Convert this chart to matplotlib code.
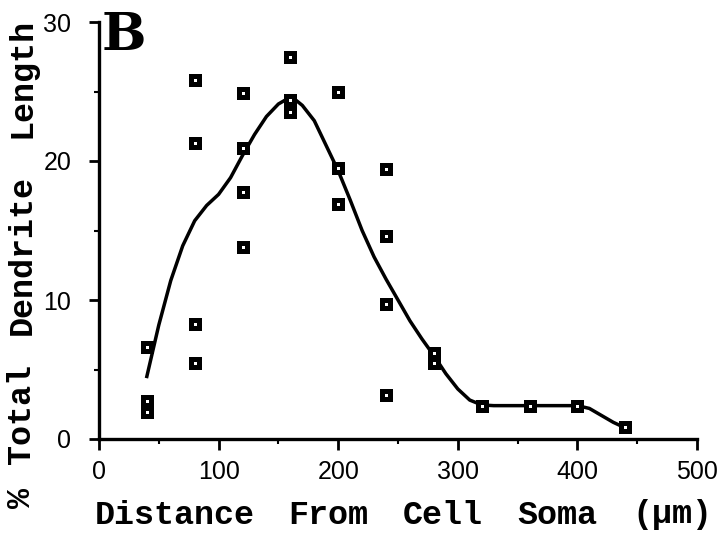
import numpy as np
import matplotlib
matplotlib.use("Agg")
from matplotlib import pyplot as plt
from matplotlib.ticker import MultipleLocator

# measured points: distance from soma (um) -> % of total dendrite length
dist = [40, 40, 40,
        80, 80, 80, 80,
        120, 120, 120, 120,
        160, 160, 160,
        200, 200, 200,
        240, 240, 240, 240,
        280, 280,
        320, 360, 400, 440]
pct = [6.6, 2.7, 1.95,
       25.8, 21.3, 8.3, 5.5,
       24.9, 20.9, 17.8, 13.8,
       27.5, 24.4, 23.5,
       25.0, 19.5, 16.9,
       19.4, 14.6, 9.7, 3.15,
       6.2, 5.5,
       2.35, 2.4, 2.4, 0.85]

# smoothed fit, read every 10 um (5 um round the peak)
fit_x = [40, 50, 60, 70, 80, 90, 100, 110, 120, 130, 140, 150, 155, 160,
         165, 170, 180, 190, 200, 210, 220, 230, 240, 250, 260, 270, 280,
         290, 300, 310, 320, 330, 340, 350, 360, 370, 380, 390, 400, 410,
         420, 430, 440]
fit_y = [4.5, 8.2, 11.4, 13.9, 15.7, 16.8, 17.6, 18.8, 20.4, 21.9, 23.2,
         24.1, 24.35, 24.45, 24.35, 24.0, 22.9, 21.1, 19.3, 17.2, 15.0,
         13.1, 11.5, 10.0, 8.5, 7.2, 6.0, 4.7, 3.6, 2.8, 2.45, 2.4, 2.4,
         2.4, 2.4, 2.4, 2.4, 2.4, 2.4, 2.2, 1.7, 1.2, 0.8]

xticks = [0, 100, 200, 300, 400, 500]
yticks = [0, 10, 20, 30]

# axis titles are set word by word
xlabel_words = ["Distance", "From", "Cell", "Soma", "(\u00b5m)"]
xlabel_px = [95, 288, 403, 517, 632]      # left edge of each word
ylabel_words = ["%", "Total", "Dendrite", "Length"]
ylabel_px = [498, 414, 255, 78]           # vertical centre of each word

W, H = 718, 536
fig = plt.figure(figsize=(W / 100, H / 100), dpi=100)
ax = fig.add_axes([99 / W, (H - 439) / H, 598 / W, 417 / H])

ax.plot(fit_x, fit_y, color="black", lw=2.5, zorder=2,
        solid_joinstyle="round")
ax.plot(dist, pct, ls="none", marker="s", ms=6.4, mfc="white", mec="black",
        mew=3.6, zorder=3)

ax.set_xlim(0, 500)
ax.set_ylim(0, 30)
ax.set_xticks(xticks)
ax.set_yticks(yticks)
ax.xaxis.set_minor_locator(MultipleLocator(50))
ax.yaxis.set_minor_locator(MultipleLocator(5))

for s in ["top", "right"]:
    ax.spines[s].set_visible(False)
for s in ["left", "bottom"]:
    ax.spines[s].set_linewidth(2.4)
    ax.spines[s].set_capstyle("projecting")

tickfont = dict(family="Liberation Sans", size=18)
ax.set_xticklabels([str(t) for t in xticks], **tickfont)
ax.set_yticklabels([str(t) for t in yticks], **tickfont)
ax.tick_params(which="major", direction="out", length=8, width=2, pad=7)
ax.tick_params(axis="y", which="major", length=7, pad=13)
ax.tick_params(which="minor", direction="out", length=3.5, width=1.5)

label_font = dict(family="Liberation Mono", weight="bold", size=24)
for word, px in zip(xlabel_words, xlabel_px):
    fig.text(px / W, 1 - 515 / H, word, ha="left", va="center", **label_font)
for word, py in zip(ylabel_words, ylabel_px):
    fig.text(22 / W, 1 - py / H, word, rotation=90, ha="center",
             va="center", **label_font)

fig.text(102 / W, 1 - 36 / H, "B", ha="left", va="center",
         family="DejaVu Serif", weight="bold", size=38)

fig.savefig("out.png", dpi=100)
